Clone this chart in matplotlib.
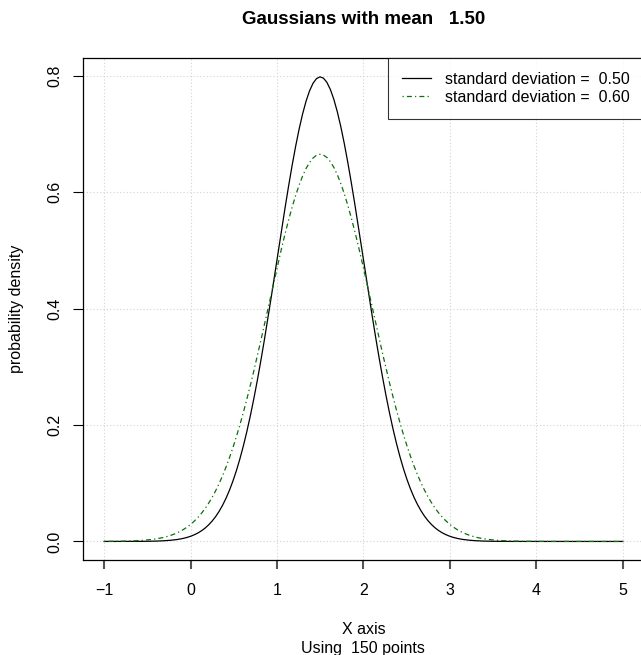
import numpy as np
import matplotlib
matplotlib.use('Agg')
import matplotlib.pyplot as plt

plt.rcParams['font.family'] = ['Liberation Sans', 'DejaVu Sans']

# parameters read from the title / legend / subtitle
mean = 1.5
sds = [0.50, 0.60]
n_points = 150
x_range = [-1, 5]
line_colors = ['black', '#0a700a']
line_styles = ['-', (0, (1, 2.5, 4, 2.5))]
x_ticks = [-1, 0, 1, 2, 3, 4, 5]
y_ticks = [0.0, 0.2, 0.4, 0.6, 0.8]

x = np.linspace(x_range[0], x_range[1], n_points)
curves = [np.exp(-0.5 * ((x - mean) / s) ** 2) / (s * np.sqrt(2 * np.pi)) for s in sds]

fig = plt.figure(figsize=(6.41, 6.55), dpi=100)
ax = fig.add_axes([0.1301, 0.1450, 0.8738, 0.7660])

ymax = max(c.max() for c in curves)
ax.set_xlim(x_range[0] - 0.04 * 6, x_range[1] + 0.04 * 6)
ax.set_ylim(-0.04 * ymax, 1.04 * ymax)

# dotted grid
for t in x_ticks:
    ax.axvline(t, color='#d3d3d3', lw=0.8, ls=(0, (1, 2)), zorder=0)
for t in y_ticks:
    ax.axhline(t, color='#d3d3d3', lw=0.8, ls=(0, (1, 2)), zorder=0)

for s, c, col, ls in zip(sds, curves, line_colors, line_styles):
    ax.plot(x, c, color=col, ls=ls, lw=0.9, label='standard deviation =  %.2f' % s)

fs = 11.5
ax.set_xticks(x_ticks)
ax.set_xticklabels([str(t).replace('-', '\u2212') for t in x_ticks])
ax.set_yticks(y_ticks)
ax.set_yticklabels(['%.1f' % t for t in y_ticks], rotation=90, va='center')
ax.tick_params(axis='both', labelsize=fs, length=7, width=0.8, pad=8)
ax.tick_params(axis='x', color='#555555', width=1.5, length=6.5, pad=10)
for sp in ax.spines.values():
    sp.set_linewidth(0.9)

leg = ax.legend(loc='upper right', bbox_to_anchor=(1.0, 1.0), borderaxespad=0,
                fontsize=fs, frameon=True, fancybox=False, edgecolor='black',
                handlelength=1.8, handletextpad=0.9, labelspacing=0.2,
                borderpad=0.85)
leg.get_frame().set_linewidth(0.8)

fig.text(0.5669, 1 - 19 / 655, 'Gaussians with mean   %.2f' % mean,
         ha='center', va='center', fontsize=13.5, fontweight='bold')
fig.text(17 / 641, 1 - 309 / 655, 'probability density', rotation=90,
         ha='center', va='center', fontsize=fs)
fig.text(0.5669, 1 - 629 / 655, 'X axis', ha='center', va='center', fontsize=fs)
fig.text(0.5669, 1 - 648 / 655, 'Using  %d points' % n_points, ha='center', va='center',
         fontsize=fs)

fig.savefig('out.png', dpi=100)
